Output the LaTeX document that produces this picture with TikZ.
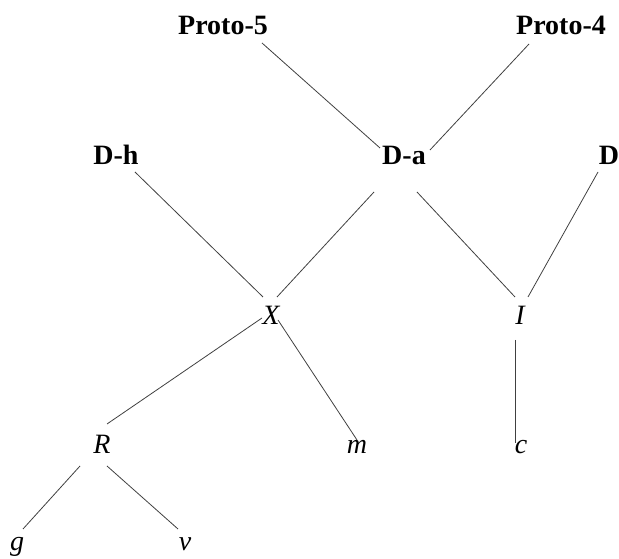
\documentclass[tikz,border=0pt]{standalone}
\usepackage{fontspec}
\setmainfont{Liberation Serif}
\tikzset{
  proto/.style={anchor=base, inner sep=0pt, font=\fontsize{28}{34}\selectfont\bfseries},
  leaf/.style={anchor=base, inner sep=0pt, font=\fontsize{28}{34}\selectfont\itshape},
  edge/.style={black!75, line width=0.8pt}
}
\begin{document}
\begin{tikzpicture}[x=1pt,y=1pt]
\useasboundingbox (0,0) rectangle (619,559);
\node[proto] (p5) at (223,524) {Proto-5};
\node[proto] (p4) at (561,524) {Proto-4};
\node[proto] (dh) at (116,394) {D-h};
\node[proto] (da) at (404,394) {D-a};
\node[proto] (d) at (609,394) {D};
\node[leaf] (x) at (271,234) {X};
\node[leaf] (i) at (520,234) {I};
\node[leaf] (r) at (102,105) {R};
\node[leaf] (m) at (357,105) {m};
\node[leaf] (c) at (521,105) {c};
\node[leaf] (g) at (17,8) {g};
\node[leaf] (v) at (185,8) {v};
\draw[edge] ([shift={(39,-8)}]p5.base) -- ([shift={(-24,17)}]da.base);
\draw[edge] ([shift={(-32,-9)}]p4.base) -- ([shift={(26,15)}]da.base);
\draw[edge] ([shift={(19,-7)}]dh.base) -- ([shift={(-8,28)}]x.base);
\draw[edge] ([shift={(-30,-27)}]da.base) -- ([shift={(6,28)}]x.base);
\draw[edge] ([shift={(13,-27)}]da.base) -- ([shift={(-5,28)}]i.base);
\draw[edge] ([shift={(-11,-7)}]d.base) -- ([shift={(8,28)}]i.base);
\draw[edge] ([shift={(-9,7)}]x.base) -- ([shift={(5,30)}]r.base);
\draw[edge] ([shift={(7,5)}]x.base) -- ([shift={(0,14)}]m.base);
\draw[edge] ([shift={(-5,-15)}]i.base) -- ([shift={(-6,11)}]c.base);
\draw[edge] ([shift={(-22,-12)}]r.base) -- ([shift={(6,22)}]g.base);
\draw[edge] ([shift={(5,-12)}]r.base) -- ([shift={(-7,22)}]v.base);
\end{tikzpicture}
\end{document}
